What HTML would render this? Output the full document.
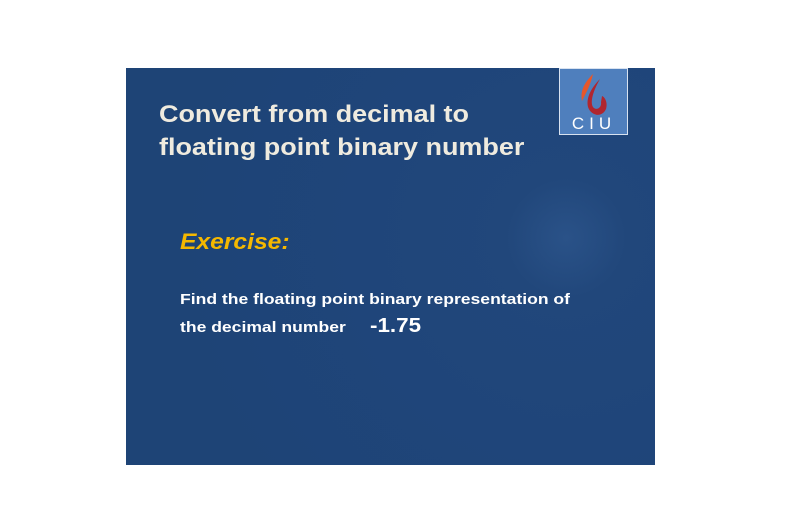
<!DOCTYPE html>
<html><head><meta charset="utf-8"><style>
body{margin:0;width:785px;height:524px;background:#fff;position:relative;overflow:hidden;font-family:"Liberation Sans",sans-serif}
#slide{position:absolute;left:126px;top:68px;width:529px;height:397px;background:radial-gradient(circle at 440px 170px,#2a5288 0,#21477b 60px,#1f457a 200px,#1e4476 400px)}
.t{position:absolute;white-space:nowrap;font-weight:bold;transform-origin:0 0}
#logo{position:absolute;left:433px;top:0;width:69px;height:67px;background:#4f7fbd;border:1px solid #d8e2f0;box-sizing:border-box}
</style></head><body>
<div id="slide">
<div class="t" style="left:33px;top:30px;font-size:24.5px;line-height:33px;color:#efebdf;transform:scaleX(1.1)">Convert from decimal to<br>floating point binary number</div>
<div id="logo">
<svg width="67" height="65" viewBox="0 0 67 65">
<path d="M33 5 C24 14 20 22 22 32 L28 20 C30 15 32 10 33 5Z" fill="#e8572a"/>
<path d="M40 10 C30 20 26 30 28 38 C31 47 42 49 46 40 C48 34 45 28 42 27 L41 33 C42 39 36 42 33 38 C30 33 33 22 40 10Z" fill="#b0262f"/>
<text x="34" y="60" text-anchor="middle" fill="#fff" font-size="17" font-family="Liberation Sans" letter-spacing="5">CIU</text>
</svg></div>
<div class="t" style="left:54px;top:161px;font-size:22px;font-style:italic;color:#f5b800;transform:scaleX(1.12)">Exercise:</div>
<div class="t" style="left:54px;top:218px;font-size:15px;line-height:28px;color:#fff;transform:scaleX(1.17)">Find the floating point binary representation of<br>the decimal number</div>
<div class="t" style="left:244px;top:247px;font-size:20px;color:#fff;transform:scaleX(1.12)">-1.75</div>
</div>
</body></html>
